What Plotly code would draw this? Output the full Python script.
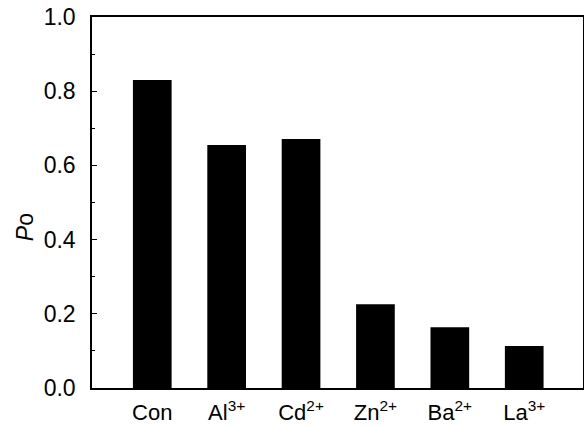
import plotly.graph_objects as go

categories = ["Con", "Al<sup>3+</sup>", "Cd<sup>2+</sup>", "Zn<sup>2+</sup>", "Ba<sup>2+</sup>", "La<sup>3+</sup>"]
po_values = [0.830, 0.655, 0.671, 0.226, 0.164, 0.113]
y_ticks = [0.0, 0.2, 0.4, 0.6, 0.8, 1.0]

fig = go.Figure()
fig.add_trace(go.Bar(
    x=list(range(len(categories))),
    y=po_values,
    width=0.52,
    marker=dict(color="black", line=dict(width=0)),
))

fig.update_layout(
    width=584, height=428,
    margin=dict(l=92, r=1, t=17, b=40),
    paper_bgcolor="white", plot_bgcolor="white",
    font=dict(family="Liberation Sans, Arial, sans-serif", size=22, color="black"),
    showlegend=False,
    xaxis=dict(
        range=[-0.81, 5.79],
        tickvals=list(range(len(categories))),
        ticktext=categories,
        showline=True, linecolor="black", linewidth=1.5, mirror=True,
        ticks="", showgrid=False, zeroline=False, automargin=False,
        tickfont=dict(size=22),
        ticklabelstandoff=4,
    ),
    yaxis=dict(
        range=[0, 1.0],
        tickvals=y_ticks,
        tickformat=".1f",
        showline=True, linecolor="black", linewidth=1.5, mirror=True,
        ticks="inside", ticklen=5, tickwidth=1, tickcolor="black",
        minor=dict(dtick=0.1, ticks="inside", ticklen=3, tickcolor="black", tickwidth=1, showgrid=False),
        showgrid=False, zeroline=False, automargin=False,
        tickfont=dict(size=23),
        ticklabelstandoff=10,
    ),
    annotations=[dict(
        text="<i>P</i>o", textangle=-90,
        xref="paper", yref="paper", x=-0.136, y=0.434,
        showarrow=False, font=dict(size=23),
        xanchor="center", yanchor="middle",
    )],
)

fig.write_html(
    "out.html",
    config={"displayModeBar": False},
    post_script="document.body.style.margin='0';document.body.style.overflow='hidden';",
)
